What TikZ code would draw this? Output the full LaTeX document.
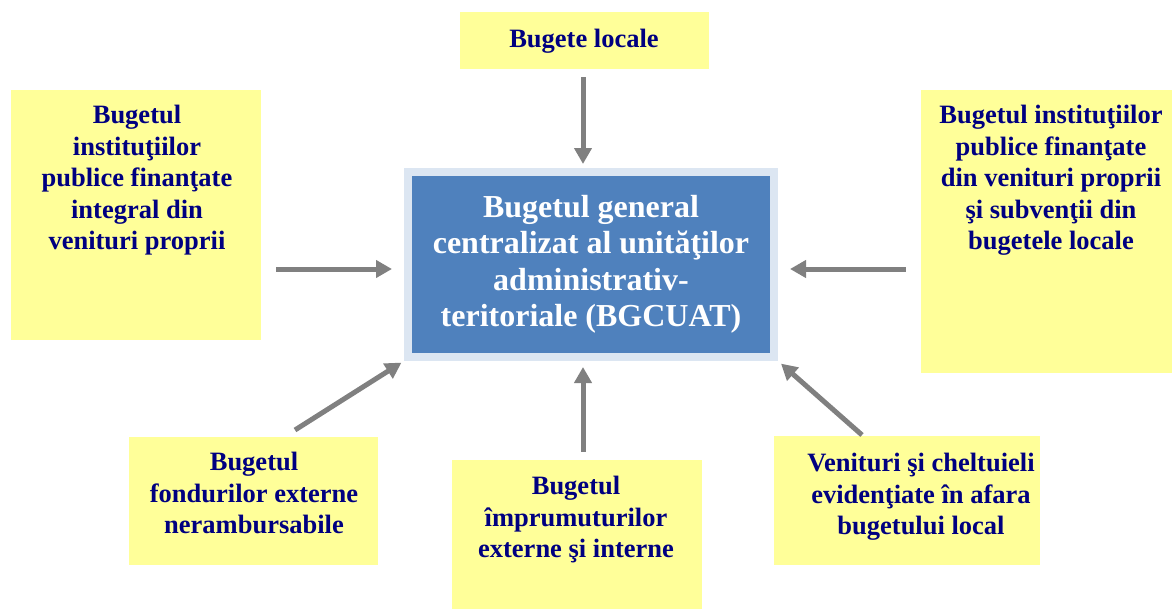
\documentclass[tikz,border=0pt]{standalone}
\usepackage{fontspec}
\setmainfont{Liberation Serif}
\usepackage{tikz}
\usetikzlibrary{arrows.meta,positioning}
\definecolor{boxyellow}{RGB}{255,255,153}
\definecolor{textnavy}{RGB}{0,0,128}
\definecolor{coreblue}{RGB}{79,129,189}
\definecolor{coreedge}{RGB}{220,230,242}
\definecolor{arrowgray}{RGB}{128,128,128}
\tikzset{budget/.style={rectangle,fill=boxyellow,inner sep=0pt}}
\tikzset{caption/.style={anchor=north,align=center,inner sep=0pt,text=textnavy,font=\fontsize{26.5}{31.5}\selectfont\bfseries}}
\tikzset{core/.style={rectangle,fill=coreblue,draw=coreedge,line width=8pt,minimum width=366pt,minimum height=185pt,inner sep=0pt,align=center,text=white,font=\fontsize{32}{36.5}\selectfont\bfseries}}
\tikzset{flow/.style={draw=arrowgray,line width=5pt,-{Triangle[length=16pt,width=17pt]}}}

\begin{document}
\begin{tikzpicture}[x=1pt,y=-1pt]
  \useasboundingbox (0,0) rectangle (1172,610);
  % central budget
  \node[core] (centre) at (591,264.5) {Bugetul general\\centralizat al unităţilor\\administrativ-\\teritoriale (BGCUAT)};
  % surrounding budgets
  \node[budget,minimum width=249pt,minimum height=57pt] (locale) at (584.5,40.5) {};
  \node[budget,minimum width=250pt,minimum height=250pt] (integral) at (136,215) {};
  \node[budget,minimum width=251pt,minimum height=283pt] (subventii) at (1046.5,231.5) {};
  \node[budget,minimum width=249pt,minimum height=128pt] (fonduri) at (253.5,501) {};
  \node[budget,minimum width=250pt,minimum height=149pt] (imprumut) at (577,534.5) {};
  \node[budget,minimum width=266pt,minimum height=129pt] (afara) at (907,500.5) {};
  \node[caption] (localetxt) at (584,29) {Bugete locale};
  \node[caption] (integraltxt) at (137,105) {Bugetul\\instituţiilor\\publice finanţate\\integral din\\venituri proprii};
  \node[caption] (subventiitxt) at (1051,105) {Bugetul instituţiilor\\publice finanţate\\din venituri proprii\\şi subvenţii din\\bugetele locale};
  \node[caption] (fonduritxt) at (254,452) {Bugetul\\fondurilor externe\\nerambursabile};
  \node[caption] (imprumuttxt) at (576,476) {Bugetul\\împrumuturilor\\externe şi interne};
  \node[caption] (afaratxt) at (921,453) {Venituri şi cheltuieli\\evidenţiate în afara\\bugetului local};
  \coordinate (fondurifoot) at (295,430);
  \coordinate (afarafoot) at (862,435);
  % arrows into the centre
  \draw[flow,shorten <=8pt,shorten >=4pt] (locale.south -| 583,0) -- (centre.north -| 583,0);
  \draw[flow,shorten <=15pt,shorten >=12pt] (integral.east |- 0,269) -- (centre.west |- 0,269);
  \draw[flow,shorten <=15pt,shorten >=12pt] (subventii.west |- 0,269) -- (centre.east |- 0,269);
  \draw[flow,shorten <=8pt,shorten >=6pt] (imprumut.north -| 583,0) -- (centre.south -| 583,0);
  \draw[flow,shorten >=3pt] (fondurifoot) -- (centre.south west);
  \draw[flow,shorten >=4pt] (afarafoot) -- (centre.south east);
\end{tikzpicture}
\end{document}
